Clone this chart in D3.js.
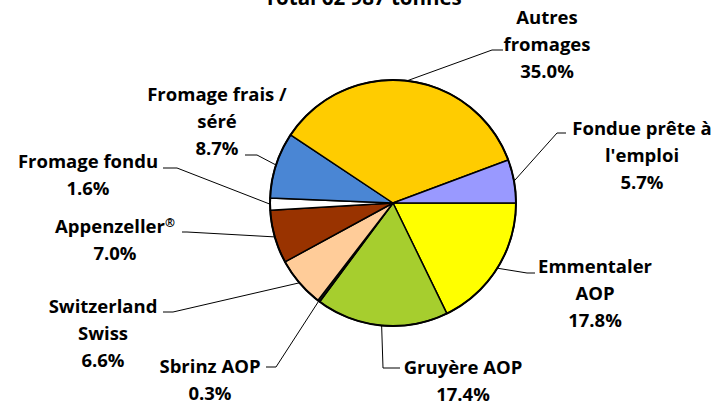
<!DOCTYPE html>
<html>
<head>
<meta charset="utf-8">
<script src="https://cdn.jsdelivr.net/npm/d3@7"></script>
<style>
  body { margin: 0; background: #fff; }
  text { font-family: "Open Sans", Lato, sans-serif; font-weight: bold; fill: #000; }
</style>
</head>
<body>
<div id="chart-area"></div>
<script>
// cheese production shares, clockwise from 3 o'clock
var categories = ["Emmentaler AOP", "Gruyère AOP", "Sbrinz AOP", "Switzerland Swiss",
    "Appenzeller®", "Fromage fondu", "Fromage frais / séré", "Autres fromages",
    "Fondue prête à l'emploi"];
var shares = [17.8, 17.4, 0.3, 6.6, 7.0, 1.6, 8.7, 35.0, 5.7];
var labelLines = [
    ["Emmentaler", "AOP"],
    ["Gruyère AOP"],
    ["Sbrinz AOP"],
    ["Switzerland", "Swiss"],
    ["Appenzeller®"],
    ["Fromage fondu"],
    ["Fromage frais /", "séré"],
    ["Autres", "fromages"],
    ["Fondue prête à", "l'emploi"]
];
var colors = ["#FFFF00", "#A6CE2E", "#1a1a1a", "#FFCC99", "#993300",
    "#FFFFFF", "#4A86D4", "#FFCC00", "#9999FF"];
var title = "Total 62 987 tonnes";

// label placement: text centre x, first line y, leader elbow, leader end
var labelLayout = [
    {x: 595, y: 267, ex: 527, ey: 273, hx: 535},
    {x: 463, y: 368, ex: 383, ey: 368, hx: 400},
    {x: 210, y: 367, ex: 276, ey: 367, hx: 266},
    {x: 103, y: 307, ex: 173, ey: 312, hx: 163},
    {x: 115, y: 227, ex: 187, ey: 232, hx: 182},
    {x: 88,  y: 162, ex: 177, ey: 168, hx: 163},
    {x: 217, y: 95,  ex: 257, ey: 155, hx: 245},
    {x: 547, y: 18,  ex: 492, ey: 50,  hx: 503},
    {x: 642, y: 129, ex: 557, ey: 133, hx: 566}
];

var width = 717;
var height = 402;
var cx = 393, cy = 203, radius = 123;
var lineH = 27;
var fontSize = "18.5px";

var svg = d3.select("#chart-area")
    .append("svg")
    .attr("width", width)
    .attr("height", height);

svg.append("text")
    .attr("x", 363)
    .attr("y", 5)
    .attr("font-size", "20.5px")
    .attr("text-anchor", "middle")
    .text(title);

var data = categories.map(function(c, i) {
    return {name: c, value: shares[i], color: colors[i], lines: labelLines[i], pos: labelLayout[i]};
});

var pie = d3.pie()
    .sort(null)
    .value(function(d) { return d.value; })
    .startAngle(Math.PI / 2)
    .endAngle(Math.PI / 2 + 2 * Math.PI);

var arc = d3.arc().innerRadius(0).outerRadius(radius);

var g = svg.append("g")
    .attr("transform", "translate(" + cx + "," + cy + ")");

var arcs = pie(data);

g.selectAll("path.slice")
    .data(arcs)
    .enter()
    .append("path")
    .attr("class", "slice")
    .attr("d", arc)
    .attr("fill", function(d) { return d.data.color; })
    .attr("stroke", "#000")
    .attr("stroke-width", 1.5)
    .attr("stroke-linejoin", "round");

g.append("circle")
    .attr("r", radius)
    .attr("fill", "none")
    .attr("stroke", "#000")
    .attr("stroke-width", 2);

// leader lines
var line = d3.line();
svg.selectAll("path.leader")
    .data(arcs)
    .enter()
    .append("path")
    .attr("class", "leader")
    .attr("fill", "none")
    .attr("stroke", "#000")
    .attr("stroke-width", 1)
    .attr("d", function(d) {
        var a = (d.startAngle + d.endAngle) / 2;
        var p0 = [cx + radius * Math.sin(a), cy - radius * Math.cos(a)];
        var p = d.data.pos;
        return line([p0, [p.ex, p.ey], [p.hx, p.ey]]);
    });

// labels
var labels = svg.selectAll("g.label")
    .data(arcs)
    .enter()
    .append("g")
    .attr("class", "label");

labels.each(function(d) {
    var el = d3.select(this);
    var p = d.data.pos;
    var rows = d.data.lines.concat([d.data.value.toFixed(1) + "%"]);
    rows.forEach(function(r, i) {
        var t = el.append("text")
            .attr("x", p.x)
            .attr("y", p.y + i * lineH)
            .attr("dy", "0.35em")
            .attr("font-size", fontSize)
            .attr("text-anchor", "middle");
        // registered mark drawn raised and small
        if (r.indexOf("®") >= 0) {
            t.append("tspan").text(r.replace("®", ""));
            t.append("tspan")
                .attr("font-size", "12px")
                .attr("dy", "-0.55em")
                .text("®");
        } else {
            t.text(r);
        }
    });
});
</script>
</body>
</html>
